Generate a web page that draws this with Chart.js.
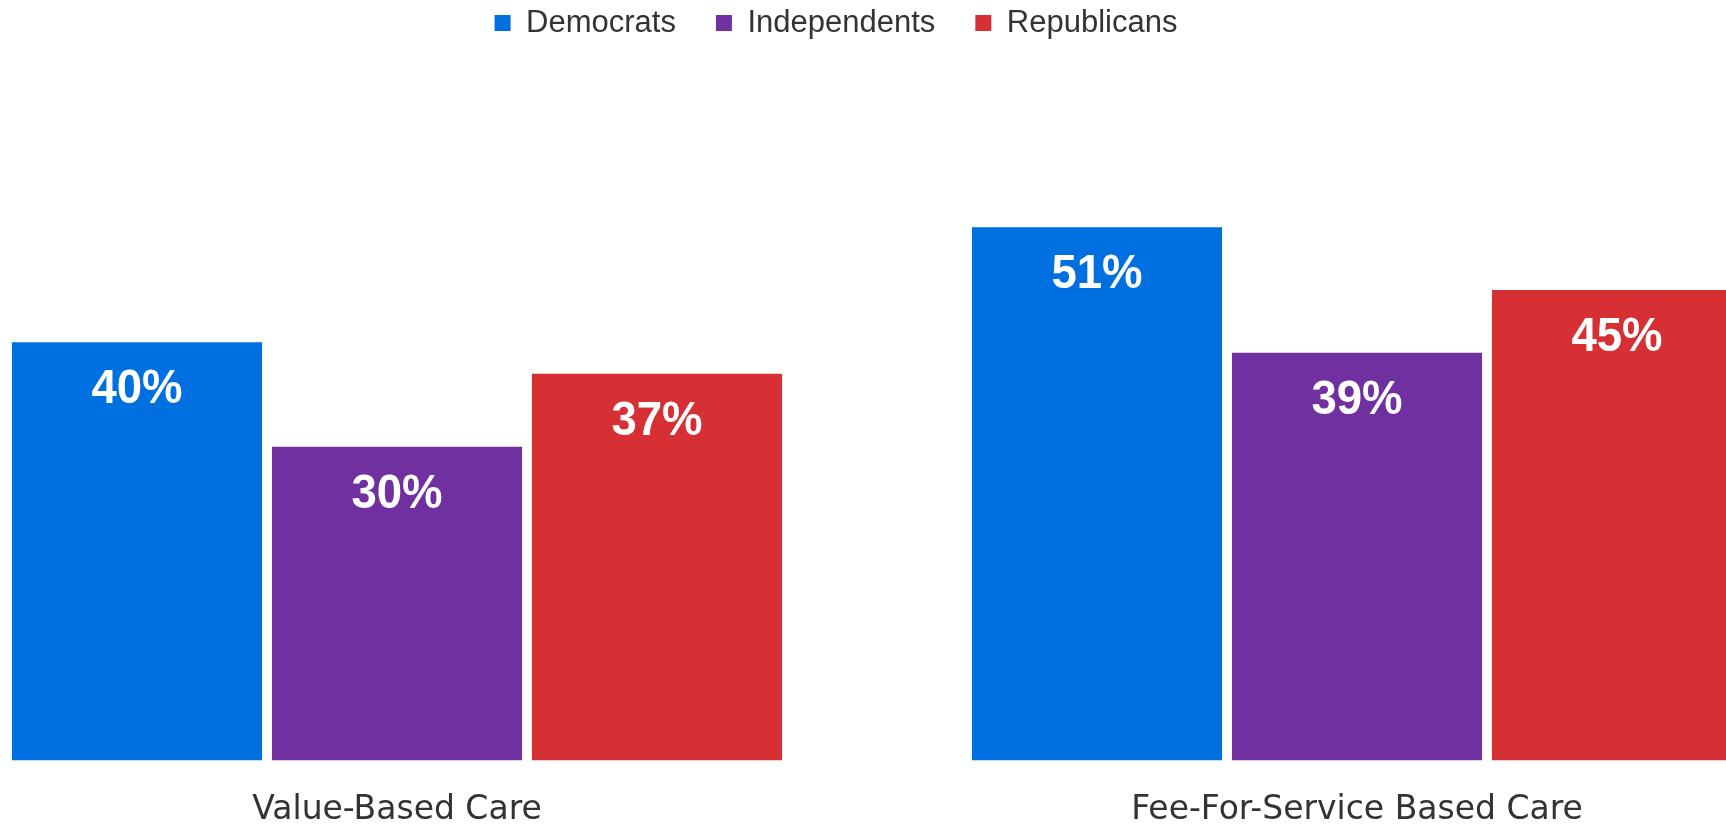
<!DOCTYPE html>
<html>
<head>
<meta charset="utf-8">
<script src="https://cdn.jsdelivr.net/npm/chart.js@4/dist/chart.umd.min.js"></script>
<style>
  html, body { margin: 0; padding: 0; background: #ffffff; overflow: hidden; width: 1726px; height: 829px; }
  #wrap { width: 1920px; height: 860px; position: absolute; left: -83px; top: 0; }
</style>
</head>
<body>
<div id="wrap"><canvas id="c"></canvas></div>
<script>
const categories = ["Value-Based Care", "Fee-For-Service Based Care"];
const seriesNames = ["Democrats", "Independents", "Republicans"];
const democrats = [40, 51];
const independents = [30, 39];
const republicans = [37, 45];
const seriesColors = ["#0070E0", "#7030A0", "#D63034"];

const valueLabels = {
  id: 'valueLabels',
  afterDatasetsDraw(chart) {
    const ctx = chart.ctx;
    chart.data.datasets.forEach((ds, di) => {
      const meta = chart.getDatasetMeta(di);
      meta.data.forEach((bar, i) => {
        ctx.save();
        ctx.font = 'bold 49px "Liberation Sans", Arial, sans-serif';
        ctx.fillStyle = '#ffffff';
        ctx.textAlign = 'center';
        ctx.textBaseline = 'alphabetic';
        ctx.translate(bar.x, bar.y + 61);
        ctx.scale(0.93, 1);
        ctx.fillText(ds.data[i] + '%', 0, 0);
        ctx.restore();
      });
    });
  }
};

const legendShift = {
  id: 'legendShift',
  afterLayout(chart) {
    const lg = chart.legend;
    if (!lg) return;
    lg.left -= 41; lg.right -= 41;
    lg.top -= 32.5; lg.bottom -= 32.5;
  }
};

new Chart(document.getElementById('c'), {
  type: 'bar',
  data: {
    labels: categories,
    datasets: [
      { label: seriesNames[0], data: democrats, backgroundColor: seriesColors[0] },
      { label: seriesNames[1], data: independents, backgroundColor: seriesColors[1] },
      { label: seriesNames[2], data: republicans, backgroundColor: seriesColors[2] }
    ]
  },
  options: {
    responsive: true,
    maintainAspectRatio: false,
    animation: false,
    layout: { padding: 0 },
    datasets: { bar: { barPercentage: 0.962, categoryPercentage: 0.8125, borderWidth: 0 } },
    scales: {
      x: {
        grid: { display: false, drawTicks: false },
        border: { display: false },
        ticks: {
          padding: 30,
          color: '#333333',
          font: { family: '"DejaVu Sans", sans-serif', size: 33 },
          maxRotation: 0,
          autoSkip: false
        }
      },
      y: {
        display: false,
        min: 0,
        max: 65,
        grid: { display: false }
      }
    },
    plugins: {
      legend: {
        position: 'top',
        labels: {
          boxWidth: 16,
          boxHeight: 16,
          padding: 40,
          color: '#333333',
          font: { family: '"Liberation Sans", Arial, sans-serif', size: 31 }
        }
      },
      tooltip: { enabled: false },
      title: { display: false }
    }
  },
  plugins: [valueLabels, legendShift]
});
</script>
</body>
</html>
